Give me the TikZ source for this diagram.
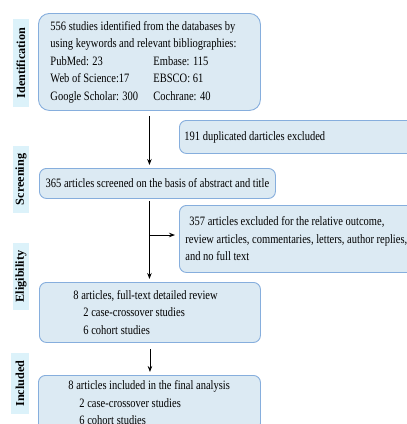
\documentclass[tikz,border=0pt]{standalone}
\usepackage{fontspec}
\setmainfont[FakeStretch=0.82]{Liberation Serif}
\newfontfamily\sidefont{Liberation Serif}
\usepackage{xcolor}
\usepackage{tikz}
\usetikzlibrary{arrows.meta, calc}
\definecolor{boxfill}{HTML}{DCEAF3}
\definecolor{boxline}{HTML}{86AEDD}
\definecolor{sidefill}{HTML}{DCF2FA}
\newcommand{\dbpair}[2]{\makebox[103pt][l]{#1}#2}

\begin{document}
\begin{tikzpicture}[x=1pt, y=-1pt,
  box/.style={draw=boxline, fill=boxfill, line width=0.9pt, rounded corners=7pt, anchor=north west, align=flush left, inner ysep=0pt, font=\fontsize{12.8}{17.5}\selectfont},
  side/.style={fill=sidefill, rotate=90, minimum height=16pt, inner sep=0pt, font=\sidefont\bfseries\fontsize{12.2}{14}\selectfont},
  arr/.style={-{Stealth[length=6pt, width=4.5pt]}, line width=0.9pt}
]
  \fill[white] (0,0) rectangle (407,424);
  \useasboundingbox (0,0) rectangle (407,424);

  \node[box, rounded corners=11pt, text width=198pt, inner xsep=12pt, minimum height=97pt] (ident) at (38,13)
    {556 studies identified from the databases by\\using keywords and relevant bibliographies:\\
     \dbpair{PubMed: 23}{Embase: 115}\\\dbpair{Web of Science:17}{EBSCO: 61}\\\dbpair{Google Scholar: 300}{Cochrane: 40}};
  \node[box, text width=241pt, inner xsep=5pt, minimum height=33pt] (dup) at (179,120) {191 duplicated darticles excluded};
  \node[box, align=center, minimum width=236pt, minimum height=30pt, inner xsep=6pt] (screen) at (39,168)
    {365 articles screened on the basis of abstract and title};
  \node[box, text width=239pt, inner xsep=6pt, minimum height=67pt] (excl) at (179,205)
    {\hspace*{4pt}357 articles excluded for the relative outcome,\\review articles, commentaries, letters, author replies,\\and no full text};
  \node[box, text width=201pt, inner xsep=10pt, minimum height=60pt] (elig) at (39,282)
    {\hspace*{24pt}8 articles, full-text detailed review\\\hspace*{34pt}2 case-crossover studies\\\hspace*{34pt}6 cohort studies};
  \node[box, text width=202pt, inner xsep=10pt, minimum height=55pt] (incl) at (38,375)
    {\hspace*{20pt}8 articles included in the final analysis\\\hspace*{31pt}2 case-crossover studies\\\hspace*{31pt}6 cohort studies};

  \node[side, minimum width=88pt] (lident) at (21,63) {Identification};
  \node[side, minimum width=67pt] (lscreen) at (21,179.5) {Screening};
  \node[side, minimum width=67pt] (lelig) at (21,276.5) {Eligibility};
  \node[side, minimum width=61pt, minimum height=18pt] (lincl) at (20,383.5) {Included};

  \draw[arr, shorten <=5pt, shorten >=3pt] (ident.south) -- (ident.south |- screen.north);
  \draw[arr, shorten <=2pt, shorten >=3pt] (ident.south |- screen.south) -- (ident.south |- elig.north);
  \coordinate (br) at (149,235);
  \draw[arr, shorten >=4pt] (br) -- (br -| excl.west);
  \draw[arr, shorten <=6pt, shorten >=3pt] (elig.south) -- (elig.south |- incl.north);
\end{tikzpicture}
\end{document}
